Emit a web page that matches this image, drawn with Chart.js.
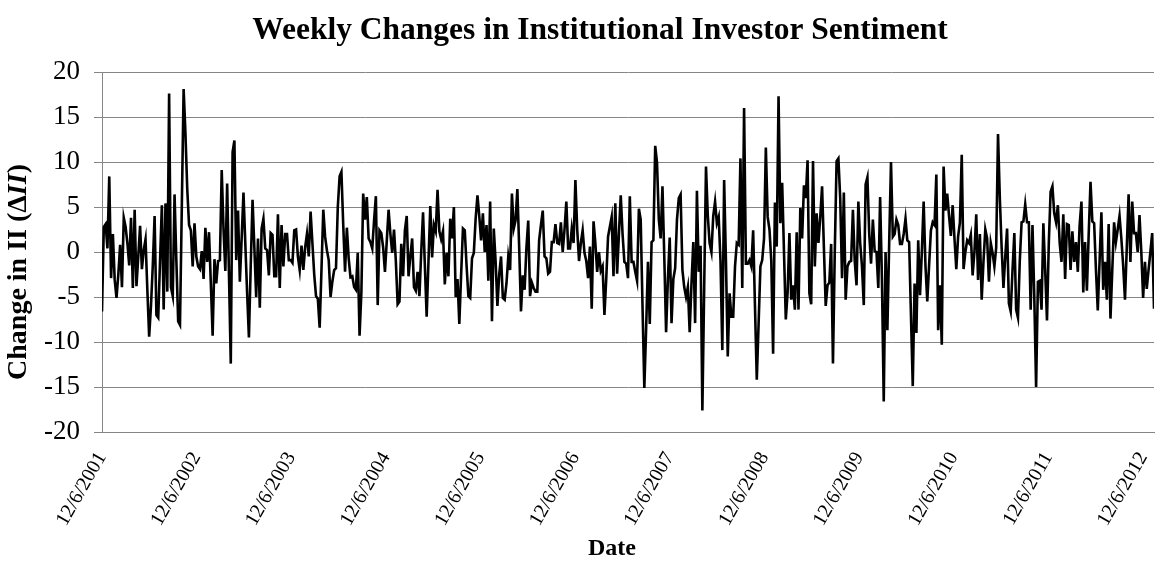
<!DOCTYPE html>
<html><head><meta charset="utf-8">
<script src="https://cdn.jsdelivr.net/npm/chart.js@4.4.1/dist/chart.umd.min.js"></script>
<style>html,body{margin:0;padding:0;background:#fff}#wrap{width:1175px;height:571px}</style>
</head><body><div id="wrap"><canvas id="c" width="1175" height="571"></canvas></div>
<script>
const chartTitle = 'Weekly Changes in Institutional Investor Sentiment';
const yTitleParts = [['Change in II (\u0394', 'bold'], ['II', 'italic bold'], [')', 'bold']];
const xTitle = 'Date';
const tickLabels = ['12/6/2001','12/6/2002','12/6/2003','12/6/2004','12/6/2005','12/6/2006','12/6/2007','12/6/2008','12/6/2009','12/6/2010','12/6/2011','12/6/2012'];
const yTicks = [-20,-15,-10,-5,0,5,10,15,20];

const chg2002 = [-6.6,2.8,3.1,0.4,8.4,-2.9,2.0,-3.1,-5.1,-2.5,0.8,-3.9,3.8,2.8,1.0,-1.5,3.8,-4.0,4.7,-3.8,-0.5,2.9,-1.9,0.2,1.4,-4.2,-9.4,-6.0,-1.5,4.0,-7.0,-7.3,-1.0,5.2,-6.4,5.4,-4.4,17.6,-3.9,-4.9,6.4,-1.0,-7.7,-8.1,5.0,18.1,13.2,7.0,3.0,2.4,-1.6];
const chg2003 = [3.2,-0.5,-1.6,-1.9,0.1,-3.0,2.7,-1.1,2.2,-3.5,-9.3,-0.8,-3.5,-1.0,-0.9,9.1,2.5,-2.1,7.6,-2.5,-12.4,11.1,12.4,-0.9,4.6,-3.3,1.5,6.6,1.0,-4.5,-9.5,-1.5,5.8,0.5,-5.0,1.5,-6.2,2.6,3.7,0.4,0.2,-2.6,2.1,1.9,-2.7,-2.7,4.2,-4.0,3.0,-1.6,2.0,2.0,-0.9];
const chg2004 = [-0.9,-1.2,2.4,2.5,-0.5,-2.0,0.7,-2.0,0.5,2.0,-0.5,4.5,1.0,-2.5,-4.9,-5.2,-8.4,-2.0,4.7,1.7,0.2,-0.9,-5.0,-3.3,-2.0,-1.8,5.0,8.4,8.9,3.0,-2.2,2.7,-0.7,-2.8,-2.7,-3.9,-4.2,-0.1,-9.3,-4.5,6.5,3.6,6.1,1.5,1.1,0.4,3.5,6.2,-5.9,2.4,2.1,0.5,-2.2];
const chg2005 = [1.2,4.7,2.0,-0.1,2.5,-1.0,-5.8,-5.5,0.9,-2.7,2.4,4.0,-2.7,-0.5,1.5,-3.9,-4.3,-2.2,-4.9,0.0,4.4,-1.5,-7.2,-1.0,5.1,-0.6,3.0,2.3,6.9,2.3,1.4,2.3,-3.6,-0.1,-2.7,3.7,1.5,5.0,-5.0,-3.0,-8.0,-2.5,2.6,2.4,-1.5,-4.9,-5.1,-0.7,-0.1,3.7,6.3,4.0,1.3];
const chg2006 = [4.3,0.0,3.0,-3.2,5.6,-7.7,2.6,-1.0,-6.0,-2.5,-0.5,-5.1,-5.3,-3.5,-0.5,-2.0,6.5,2.6,3.5,7.0,0.5,-6.6,-2.6,-4.2,0.5,3.5,-4.9,-3.4,-4.0,-4.4,-4.4,1.3,3.0,4.6,-0.5,-0.7,-2.4,-2.2,1.1,1.1,3.1,1.0,0.9,3.3,0.0,2.5,5.6,0.4,0.4,2.6,1.0,8.0,2.5];
const chg2007 = [-1.0,1.0,2.4,-0.1,-1.0,-2.9,0.6,-6.3,3.4,1.0,-2.2,0.0,-2.1,-1.6,-7.0,-3.0,1.7,2.8,3.9,-2.7,5.4,-2.4,2.0,6.3,2.0,-1.1,-1.3,-2.9,6.2,-1.1,-1.1,-2.2,-3.2,4.8,3.6,-6.0,-15.1,-8.5,-1.1,-8.0,1.1,1.3,11.8,9.9,3.6,1.5,7.3,-0.5,-8.9,-3.0,1.6,-7.9,-3.0];
const chg2008 = [-1.8,3.6,6.0,6.4,-2.0,-3.9,-5.0,-3.9,-8.9,-3.5,1.1,-7.9,6.8,-2.2,0.7,-17.6,-4.0,9.5,4.0,1.0,0.0,4.0,5.6,3.2,3.9,-1.0,-10.9,8.0,-1.0,-11.6,-4.6,-7.2,-7.2,-1.6,1.0,0.8,10.4,-4.0,16.0,-1.3,-1.3,-0.9,-1.6,2.4,-6.0,-14.2,-8.0,-1.6,-0.9,1.5,11.6,3.9,2.5];
const chg2009 = [-1.0,-11.3,5.5,0.6,17.3,3.2,7.7,0.0,-7.5,-4.5,2.1,-5.3,-3.7,-6.4,2.2,-6.4,4.9,1.5,7.4,6.0,10.2,-4.6,-5.8,10.1,-1.6,4.3,1.0,3.9,7.3,0.5,-6.0,-3.7,-3.4,0.9,-12.4,0.0,10.1,10.4,6.0,-2.9,6.6,-5.3,-1.6,-1.1,-1.0,4.7,-1.0,-3.7,5.6,1.0,-1.6,-5.9,7.5];
const chg2010 = [8.3,2.0,-1.3,3.6,0.1,0.0,-4.0,6.1,-3.0,-16.6,0.0,-8.7,1.0,10.0,1.7,2.0,3.6,3.0,0.9,0.9,2.0,3.7,1.3,1.1,-7.0,-14.9,-3.5,-9.0,1.3,-4.8,0.0,5.6,-1.5,-5.5,-1.5,2.4,3.3,3.0,8.6,-8.7,-3.7,-10.3,9.5,4.6,6.5,4.0,1.8,5.2,1.5,-1.9,1.7,3.3,10.8];
const chg2011 = [-1.9,0.0,1.3,1.0,1.9,-2.6,0.0,4.2,-3.1,2.0,-5.3,-1.0,2.5,1.5,-3.3,1.0,-0.1,-1.6,0.5,13.1,6.0,0.5,-4.0,-0.5,2.6,-5.7,-6.6,-2.0,2.1,-6.4,-7.3,-1.0,3.3,3.4,5.3,3.3,3.3,-6.4,3.0,-5.0,-15.0,-3.3,-3.2,-6.4,3.2,-2.0,-7.6,1.0,6.7,7.3,4.3,3.3,5.2];
const chg2012 = [1.0,-1.1,4.2,-3.0,3.1,3.0,-2.0,2.3,-1.1,1.1,-2.2,3.0,5.6,-4.5,1.1,-4.3,2.0,7.8,3.4,3.2,-2.0,-6.5,-1.0,4.4,-4.2,-1.1,-5.3,3.1,-7.4,-2.0,3.3,1.1,2.5,4.0,1.5,-1.5,-5.3,0.5,6.4,-1.1,5.6,2.1,2.1,0.0,4.1,0.0,-5.1,-1.1,-4.1,-2.0,0.0,2.1,-6.3];

const values = [].concat(chg2002, chg2003, chg2004, chg2005, chg2006, chg2007, chg2008, chg2009, chg2010, chg2011, chg2012);
const points = values.map((v, i) => ({x: i, y: v}));

const DAY = 86400000;
const t0 = new Date(tickLabels[0]).getTime();
const tickWeeks = tickLabels.map(l => (new Date(l).getTime() - t0) / DAY / 7);

const SERIF = "'Liberation Serif', 'Times New Roman', serif";
const GRID = '#868686';

const titlesPlugin = {
  id: 'titles',
  afterDraw(chart) {
    const ctx = chart.ctx;
    ctx.save();
    ctx.fillStyle = '#000';
    ctx.textAlign = 'center';
    ctx.textBaseline = 'middle';
    ctx.font = 'bold 31.5px ' + SERIF;
    ctx.fillText(chartTitle, 600, 31);
    ctx.font = 'bold 24px ' + SERIF;
    ctx.fillText(xTitle, 612, 549);
    ctx.translate(19, 272);
    ctx.rotate(-Math.PI / 2);
    ctx.textAlign = 'left';
    let total = 0;
    yTitleParts.forEach(p => { ctx.font = p[1] + ' 28px ' + SERIF; total += ctx.measureText(p[0]).width; });
    let x = -total / 2;
    yTitleParts.forEach(p => { ctx.font = p[1] + ' 28px ' + SERIF; ctx.fillText(p[0], x, 0); x += ctx.measureText(p[0]).width; });
    ctx.restore();
  }
};

new Chart(document.getElementById('c'), {
  type: 'line',
  data: { datasets: [{ data: points, borderColor: '#000', borderWidth: 2.6, pointRadius: 0, tension: 0, fill: false }] },
  plugins: [titlesPlugin],
  options: {
    responsive: false, animation: false, devicePixelRatio: 1,
    layout: { padding: { left: 0, right: 21, top: 72, bottom: 0 } },
    plugins: { legend: { display: false }, tooltip: { enabled: false }, title: { display: false } },
    scales: {
      x: {
        type: 'linear', min: 0, max: values.length - 1,
        grid: { display: false, drawTicks: false },
        border: { display: true, color: GRID, width: 1 },
        afterBuildTicks: s => { s.ticks = tickWeeks.map(v => ({ value: v })); },
        ticks: { autoSkip: false, minRotation: 60, maxRotation: 60, padding: 16, color: '#000',
          font: { family: SERIF, size: 20 },
          callback: (v) => { const k = tickWeeks.findIndex(w => Math.abs(w - v) < 0.01); return k >= 0 ? tickLabels[k] : ''; } },
        afterFit: s => { s.height = 139; s.paddingLeft = 0; s.paddingRight = 0; }
      },
      y: {
        min: -20, max: 20,
        afterBuildTicks: s => { s.ticks = yTicks.map(v => ({ value: v })); },
        grid: { color: GRID, lineWidth: 1, tickLength: 8, drawTicks: true },
        border: { display: true, color: GRID, width: 1 },
        ticks: { color: '#000', padding: 14, font: { family: SERIF, size: 27 } },
        afterFit: s => { s.width = 102; s.paddingTop = 0; s.paddingBottom = 0; }
      }
    }
  }
});
</script></body></html>
